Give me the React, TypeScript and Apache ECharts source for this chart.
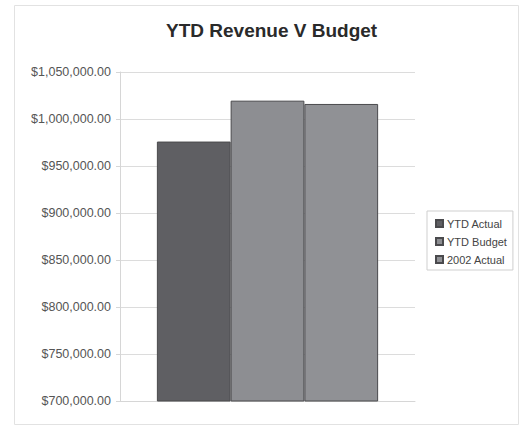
import React, { useEffect, useRef } from "react";
import * as echarts from "echarts";

const categories = ["YTD"];
const seriesNames = ["YTD Actual", "YTD Budget", "2002 Actual"];
const ytdActual = [976000];
const ytdBudget = [1019500];
const actual2002 = [1016000];
const seriesColors = ["#5f5f63", "#8d8e92", "#909195"];

export default function App() {
  const ref = useRef<HTMLDivElement>(null);
  useEffect(() => {
    if (!ref.current) return;
    const chart = echarts.init(ref.current, undefined, { renderer: "svg" });
    const values = [ytdActual, ytdBudget, actual2002];
    chart.setOption({
      animation: false,
      backgroundColor: "#ffffff",
      title: {
        text: "YTD Revenue V Budget",
        left: 166,
        top: 21,
        padding: 0,
        textStyle: {
          fontFamily: "Liberation Sans",
          fontSize: 19,
          fontWeight: "bold",
          color: "#2a2a2a",
        },
      },
      graphic: [
        {
          type: "rect",
          shape: { x: 14.5, y: 5.5, width: 504, height: 419 },
          style: { fill: "none", stroke: "#e2e2e2", lineWidth: 1 },
          silent: true,
          z: -1,
        },
      ],
      legend: {
        orient: "vertical",
        left: 427,
        top: 211,
        data: seriesNames,
        itemWidth: 7,
        itemHeight: 7,
        itemGap: 7,
        padding: [7, 6, 5, 8],
        borderColor: "#cfcfcf",
        borderWidth: 1,
        icon: "rect",
        textStyle: {
          fontFamily: "Liberation Sans",
          fontSize: 11,
          color: "#444",
          padding: [0, 0, 0, -1],
        },
      },
      grid: { left: 120, right: 106, top: 72, bottom: 27 },
      xAxis: {
        type: "category",
        data: categories,
        axisLabel: { show: false },
        axisTick: { show: false },
        axisLine: { show: true, lineStyle: { color: "#d6d6d6" } },
      },
      yAxis: {
        type: "value",
        min: 700000,
        max: 1050000,
        interval: 50000,
        axisLine: { show: true, lineStyle: { color: "#d6d6d6" } },
        axisTick: { show: true, length: 4, lineStyle: { color: "#d6d6d6" } },
        splitLine: { show: true, lineStyle: { color: "#dcdcdc" } },
        axisLabel: {
          fontFamily: "Liberation Sans",
          fontSize: 12.5,
          color: "#555",
          margin: 9,
          formatter: (v: number) =>
            "$" +
            v.toLocaleString("en-US", {
              minimumFractionDigits: 2,
              maximumFractionDigits: 2,
            }),
        },
      },
      series: seriesNames.map((name, i) => ({
        name,
        type: "bar",
        data: values[i],
        barGap: "0%",
        barCategoryGap: "25%",
        itemStyle: {
          color: seriesColors[i],
          borderColor: "#4a4a4d",
          borderWidth: 1,
        },
      })),
    });
    return () => chart.dispose();
  }, []);
  return (
    <div
      ref={ref}
      style={{ position: "fixed", left: 0, top: 0, width: 521, height: 428 }}
    />
  );
}
